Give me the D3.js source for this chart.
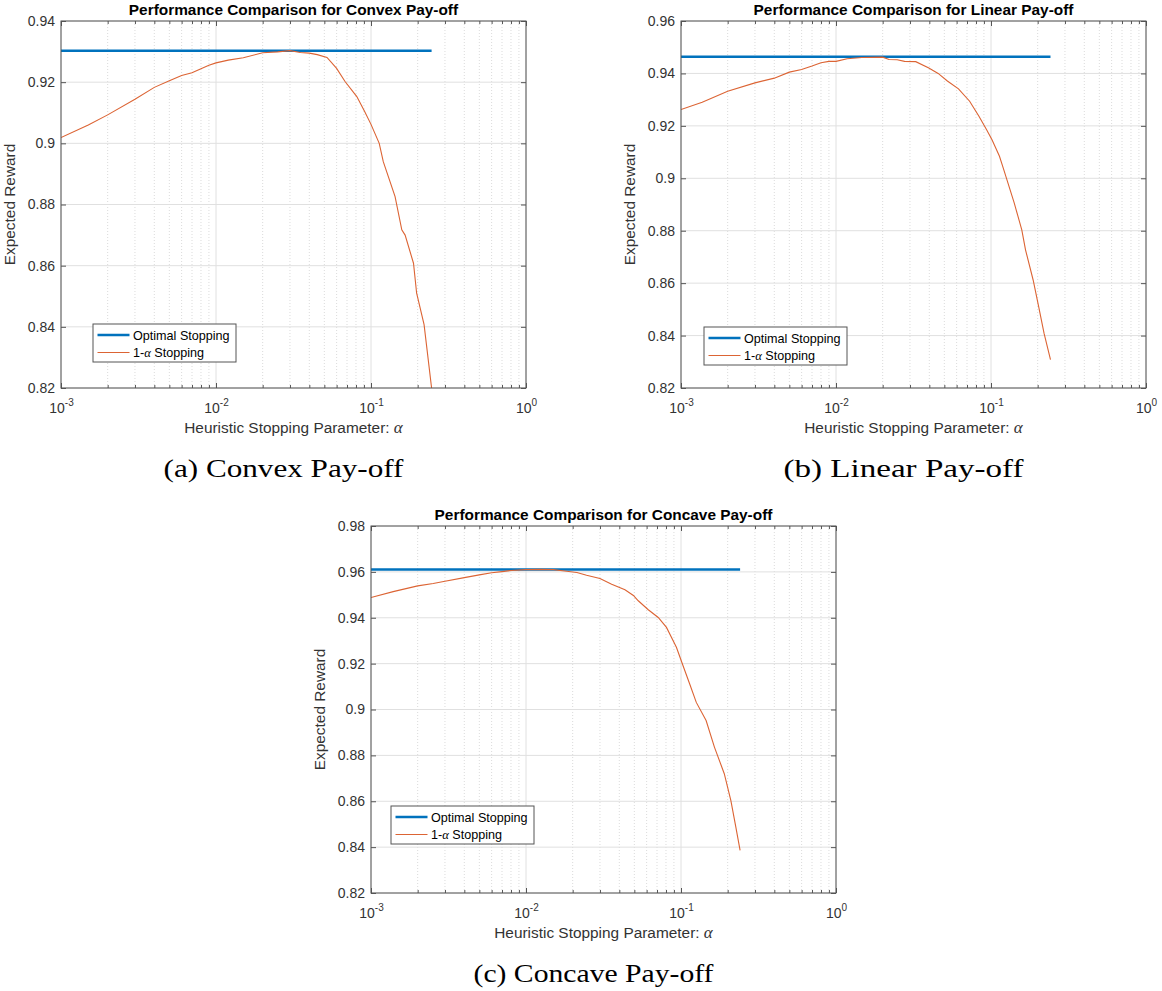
<!DOCTYPE html>
<html>
<head>
<meta charset="utf-8">
<script src="https://cdn.jsdelivr.net/npm/d3@7"></script>
<style>
  html, body { margin: 0; padding: 0; background: #ffffff; }
  svg { display: block; }
</style>
</head>
<body>
<svg id="fig" width="1162" height="991"></svg>
<script>
// ---- data: heuristic parameter alpha and expected reward of the 1-alpha rule ----
const alphaConvex = [0.001, 0.0015, 0.002, 0.003, 0.004, 0.005, 0.006, 0.007, 0.008, 0.009,
  0.010, 0.012, 0.015, 0.020, 0.025, 0.030, 0.035, 0.040, 0.045, 0.052, 0.060, 0.068,
  0.081, 0.091, 0.100, 0.113, 0.120, 0.143, 0.158, 0.166, 0.188, 0.197, 0.220, 0.246];
const rewardConvex = [0.9019, 0.9060, 0.9093, 0.9144, 0.9183, 0.9205, 0.9222, 0.9231, 0.9244, 0.9255,
  0.9263, 0.9272, 0.9280, 0.9296, 0.9299, 0.9303, 0.9297, 0.9295, 0.9290, 0.9281, 0.9245, 0.9202,
  0.9153, 0.9104, 0.9062, 0.9000, 0.8940, 0.8826, 0.8717, 0.8700, 0.8608, 0.8510, 0.8407, 0.8200];
const optimalConvex = 0.9303;

const alphaLinear = [0.001, 0.00137, 0.002, 0.003, 0.004, 0.005, 0.006, 0.007, 0.008, 0.009,
  0.010, 0.0118, 0.0147, 0.020, 0.022, 0.0248, 0.0277, 0.0327, 0.0397, 0.0456, 0.0523, 0.0617,
  0.0728, 0.0836, 0.0935, 0.1015, 0.1134, 0.120, 0.1413, 0.158, 0.167, 0.187, 0.203, 0.220, 0.242];
const rewardLinear = [0.9262, 0.9290, 0.9332, 0.9364, 0.9382, 0.9405, 0.9415, 0.9428, 0.9441, 0.9446,
  0.9446, 0.9456, 0.9461, 0.9462, 0.9453, 0.9452, 0.9446, 0.9445, 0.9421, 0.9400, 0.9371, 0.9341,
  0.9294, 0.9237, 0.9186, 0.9147, 0.9084, 0.9039, 0.8905, 0.8803, 0.8727, 0.8612, 0.8510, 0.8408, 0.8308];
const optimalLinear = 0.9464;

const alphaConcave = [0.001, 0.00139, 0.002, 0.00252, 0.003, 0.004, 0.005, 0.006, 0.007, 0.008,
  0.010, 0.0123, 0.0150, 0.0183, 0.0213, 0.0246, 0.0300, 0.0357, 0.0435, 0.0493, 0.0530, 0.0615,
  0.0713, 0.0806, 0.0934, 0.1031, 0.1138, 0.1255, 0.1452, 0.1643, 0.1902, 0.2098, 0.2257, 0.2406];
const rewardConcave = [0.9488, 0.9514, 0.9539, 0.9549, 0.9559, 0.9575, 0.9587, 0.9596, 0.9601, 0.9606,
  0.9610, 0.9611, 0.9610, 0.9603, 0.9597, 0.9585, 0.9571, 0.9546, 0.9522, 0.9497, 0.9474, 0.9435,
  0.9401, 0.9358, 0.9271, 0.9191, 0.9111, 0.9031, 0.8952, 0.8836, 0.8720, 0.8603, 0.8488, 0.8386];
const optimalConcave = 0.9610;

// ---- axis ticks and text ----
const xTickExponents = [-3, -2, -1, 0];
const yTicksConvex = [0.82, 0.84, 0.86, 0.88, 0.90, 0.92, 0.94];
const yTicksLinear = [0.82, 0.84, 0.86, 0.88, 0.90, 0.92, 0.94, 0.96];
const yTicksConcave = [0.82, 0.84, 0.86, 0.88, 0.90, 0.92, 0.94, 0.96, 0.98];
const titles = ["Performance Comparison for Convex Pay-off",
                "Performance Comparison for Linear Pay-off",
                "Performance Comparison for Concave Pay-off"];
const captions = ["(a) Convex Pay-off", "(b) Linear Pay-off", "(c) Concave Pay-off"];
const seriesNames = ["Optimal Stopping", "1-α Stopping"];
const xLabelText = "Heuristic Stopping Parameter: ";
const yLabelText = "Expected Reward";

// ---- styling / layout ----
const BLUE = "#0072BD", ORANGE = "#DC6434";
const AXIS_COLOR = "#555555", TEXT_COLOR = "#333333";
const FONT = "'Liberation Sans', Arial, Helvetica, sans-serif";
const SERIF = "'Liberation Serif', 'Times New Roman', serif";

const panels = [
  { alpha: alphaConvex,  reward: rewardConvex,  optimal: optimalConvex,  yTicks: yTicksConvex,
    left: 61,  top: 21,  legend: { x: 93,  y: 324 } },
  { alpha: alphaLinear,  reward: rewardLinear,  optimal: optimalLinear,  yTicks: yTicksLinear,
    left: 681, top: 21,  legend: { x: 704, y: 327 } },
  { alpha: alphaConcave, reward: rewardConcave, optimal: optimalConcave, yTicks: yTicksConcave,
    left: 371, top: 526, legend: { x: 391, y: 806 } }
];
const W = 465, H = 367;

const svg = d3.select("#fig");
svg.append("rect").attr("width", 1162).attr("height", 991).attr("fill", "#fff");

panels.forEach((p, i) => {
  const g = svg.append("g").attr("transform", `translate(${p.left},${p.top})`);
  const x = d3.scaleLog().domain([1e-3, 1]).range([0, W]);
  const y = d3.scaleLinear().domain(d3.extent(p.yTicks)).range([H, 0]);

  const majorX = xTickExponents.map(e => Math.pow(10, e));
  const minorX = [];
  for (let e = -3; e < 0; e++) for (let m = 2; m <= 9; m++) minorX.push(m * Math.pow(10, e));

  // grid
  const grid = g.append("g");
  grid.selectAll("line.minor").data(minorX).join("line")
    .attr("x1", d => x(d)).attr("x2", d => x(d)).attr("y1", 0).attr("y2", H)
    .attr("stroke", "#d2d2d2").attr("stroke-width", 0.8).attr("stroke-dasharray", "1,2");
  grid.selectAll("line.mx").data(majorX).join("line")
    .attr("x1", d => x(d)).attr("x2", d => x(d)).attr("y1", 0).attr("y2", H)
    .attr("stroke", "#e0e0e0").attr("stroke-width", 1);
  grid.selectAll("line.my").data(p.yTicks).join("line")
    .attr("x1", 0).attr("x2", W).attr("y1", d => y(d)).attr("y2", d => y(d))
    .attr("stroke", "#e0e0e0").attr("stroke-width", 1);

  // series
  const clipId = "clip" + i;
  g.append("clipPath").attr("id", clipId).append("rect").attr("width", W).attr("height", H);
  const plot = g.append("g").attr("clip-path", `url(#${clipId})`);
  const aExt = d3.extent(p.alpha);
  plot.append("path")
    .datum(aExt.map(a => ({ a, v: p.optimal })))
    .attr("d", d3.line().x(d => x(d.a)).y(d => y(d.v)))
    .attr("fill", "none").attr("stroke", BLUE).attr("stroke-width", 2.5);
  plot.append("path")
    .datum(p.alpha.map((a, k) => ({ a, v: p.reward[k] })))
    .attr("d", d3.line().x(d => x(d.a)).y(d => y(d.v)))
    .attr("fill", "none").attr("stroke", ORANGE).attr("stroke-width", 1.1);

  // axes (ticks pointing inward on all four sides)
  const styleAxis = sel => {
    sel.select(".domain").remove();
    sel.selectAll(".tick line").attr("stroke", AXIS_COLOR);
  };
  g.append("g").attr("transform", `translate(0,${H})`)
    .call(d3.axisBottom(x).tickValues(minorX).tickSize(-3).tickFormat(""))
    .call(styleAxis);
  g.append("g")
    .call(d3.axisTop(x).tickValues(minorX).tickSize(-3).tickFormat(""))
    .call(styleAxis);
  g.append("g")
    .call(d3.axisTop(x).tickValues(majorX).tickSize(-5).tickFormat(""))
    .call(styleAxis);
  const xb = g.append("g").attr("transform", `translate(0,${H})`)
    .call(d3.axisBottom(x).tickValues(majorX).tickSize(-5).tickPadding(0).tickFormat(""))
    .call(styleAxis);
  xb.selectAll(".tick").each(function (d) {
    const t = d3.select(this).append("text")
      .attr("y", 25).attr("fill", TEXT_COLOR).attr("font-family", FONT)
      .attr("font-size", 14).attr("text-anchor", "middle");
    t.append("tspan").text("10");
    t.append("tspan").attr("dy", -7).attr("font-size", 10).text(String(Math.round(Math.log10(d))));
  });
  g.append("g")
    .call(d3.axisLeft(y).tickValues(p.yTicks).tickSize(-5).tickPadding(6)
      .tickFormat(v => String(+v.toFixed(2))))
    .call(styleAxis)
    .call(s => s.selectAll("text").attr("fill", TEXT_COLOR).attr("font-family", FONT)
      .attr("font-size", 14).attr("x", -6));
  g.append("g").attr("transform", `translate(${W},0)`)
    .call(d3.axisRight(y).tickValues(p.yTicks).tickSize(-5).tickFormat(""))
    .call(styleAxis);

  // box
  g.append("rect").attr("width", W).attr("height", H)
    .attr("fill", "none").attr("stroke", AXIS_COLOR).attr("stroke-width", 1);

  // title
  g.append("text").attr("x", W / 2).attr("y", -6.5).attr("text-anchor", "middle")
    .attr("font-family", FONT).attr("font-weight", "bold").attr("font-size", 15.4)
    .attr("fill", "#000").text(titles[i]);

  // axis labels
  const xl = g.append("text").attr("x", W / 2).attr("y", H + 45).attr("text-anchor", "middle")
    .attr("font-family", FONT).attr("font-size", 15.4).attr("fill", TEXT_COLOR);
  xl.append("tspan").text(xLabelText);
  xl.append("tspan").attr("font-family", SERIF).attr("font-style", "italic").attr("font-size", 17).text("α");
  g.append("text").attr("transform", `translate(-46,${H / 2}) rotate(-90)`)
    .attr("text-anchor", "middle").attr("font-family", FONT).attr("font-size", 15.4)
    .attr("fill", TEXT_COLOR).text(yLabelText);

  // legend
  const lg = svg.append("g").attr("transform", `translate(${p.legend.x},${p.legend.y})`);
  lg.append("rect").attr("width", 143).attr("height", 38)
    .attr("fill", "#fff").attr("stroke", "#555").attr("stroke-width", 1);
  const rows = [{ c: BLUE, w: 2.5 }, { c: ORANGE, w: 1.1 }];
  rows.forEach((r, k) => {
    const cy = 11 + k * 17.5;
    lg.append("line").attr("x1", 4.5).attr("x2", 36.5).attr("y1", cy).attr("y2", cy)
      .attr("stroke", r.c).attr("stroke-width", r.w);
    const t = lg.append("text").attr("x", 40).attr("y", cy + 4.5)
      .attr("font-family", FONT).attr("font-size", 12.6).attr("fill", "#000");
    if (k === 0) {
      t.text(seriesNames[0]);
    } else {
      const parts = seriesNames[1].split("α");
      t.append("tspan").text(parts[0]);
      t.append("tspan").attr("font-family", SERIF).attr("font-style", "italic").text("α");
      t.append("tspan").text(parts[1]);
    }
  });

  // caption
  svg.append("text").attr("x", p.left + W / 2 - 10).attr("y", p.top + H + 89)
    .attr("text-anchor", "middle").attr("font-family", SERIF).attr("font-size", 25)
    .attr("textLength", 240).attr("lengthAdjust", "spacingAndGlyphs")
    .attr("fill", "#000").text(captions[i]);
});
</script>
</body>
</html>
